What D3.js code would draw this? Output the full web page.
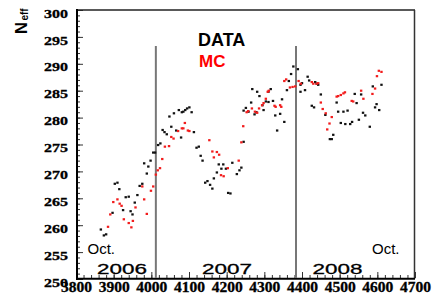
<!DOCTYPE html>
<html>
<head>
<meta charset="utf-8">
<script src="https://cdn.jsdelivr.net/npm/d3@7"></script>
<style>
  html, body { margin: 0; padding: 0; background: #fff; }
  svg { display: block; }
</style>
</head>
<body>
<div id="chart"></div>
<script>
// values: [run number, N_eff]
const dataPoints = [
  [3866,259.2],[3874,258.1],[3880,258.3],[3897,262.3],[3903,267.7],[3910,267.9],[3915,266.7],
  [3925,262.8],[3932,265.2],[3940,265.3],[3945,262.6],[3950,262.0],[3956,264.2],[3963,265.6],
  [3969,267.3],[3976,267.7],[3981,271.5],[3988,269.6],[3992,270.9],[3998,272.0],[4005,273.5],
  [4010,273.5],[4018,274.9],[4024,275.2],[4030,277.7],[4035,277.3],[4041,276.9],[4048,280.2],
  [4053,278.3],[4060,280.8],[4066,277.6],[4073,281.4],[4079,276.3],[4081,281.0],[4085,281.1],
  [4090,281.4],[4095,281.7],[4101,281.9],[4107,281.0],[4113,277.3],[4120,274.4],[4126,274.6],
  [4131,272.9],[4136,272.0],[4143,267.9],[4149,268.2],[4156,267.5],[4162,266.8],[4166,268.7],
  [4174,269.8],[4179,271.3],[4186,270.5],[4191,271.3],[4198,270.5],[4204,266.0],[4210,265.9],
  [4215,271.6],[4227,269.5],[4234,270.2],[4239,270.7],[4245,275.5],[4245,281.3],[4251,281.8],
  [4258,281.1],[4265,282.8],[4268,285.3],[4274,280.6],[4279,281.0],[4281,284.8],[4287,284.0],
  [4295,282.3],[4298,281.4],[4304,283.0],[4311,282.9],[4311,284.8],[4317,285.3],[4323,283.1],
  [4329,280.4],[4334,277.6],[4342,280.7],[4347,283.4],[4353,279.2],[4360,285.1],[4365,286.8],
  [4371,288.1],[4377,289.5],[4389,289.0],[4396,286.1],[4396,284.8],[4400,286.4],[4408,285.1],
  [4415,287.6],[4419,286.9],[4426,282.2],[4432,281.9],[4435,286.6],[4439,286.3],[4443,286.1],
  [4450,284.3],[4462,280.5],[4474,276.0],[4479,276.0],[4483,276.8],[4492,282.8],[4496,281.1],
  [4503,279.0],[4510,281.1],[4515,278.8],[4521,281.3],[4528,278.8],[4533,279.2],[4540,284.4],
  [4545,282.7],[4551,279.6],[4557,284.3],[4562,280.9],[4568,280.4],[4580,278.3],[4588,285.8],
  [4594,281.9],[4598,282.5],[4605,281.4],[4611,286.1]
];

const mcPoints = [
  [3885,259.7],[3891,262.0],[3899,264.3],[3910,264.8],[3916,264.0],[3921,263.6],[3927,261.1],
  [3940,260.4],[3947,259.6],[3951,260.8],[3958,263.3],[3976,267.2],[3981,264.8],[3988,262.1],
  [3999,266.4],[4005,267.2],[4012,269.4],[4017,270.2],[4023,270.6],[4029,272.3],[4036,274.6],
  [4047,274.7],[4053,276.4],[4059,276.1],[4071,277.5],[4081,278.0],[4085,278.0],[4089,279.0],
  [4097,277.6],[4101,277.5],[4154,275.8],[4162,273.7],[4166,272.6],[4174,273.6],[4180,273.1],
  [4185,269.3],[4192,269.1],[4203,270.6],[4232,272.0],[4239,275.4],[4244,278.4],[4253,281.0],
  [4257,281.2],[4267,281.7],[4275,281.1],[4281,280.9],[4286,281.7],[4294,282.3],[4298,282.7],
  [4304,283.5],[4309,284.8],[4312,285.0],[4327,282.2],[4330,282.0],[4342,282.3],[4345,282.0],
  [4353,286.8],[4358,287.1],[4368,285.6],[4375,285.7],[4382,285.8],[4391,286.8],[4397,286.3],
  [4426,286.6],[4430,286.3],[4439,286.3],[4443,286.4],[4450,282.8],[4455,281.6],[4463,280.8],
  [4467,277.8],[4473,278.9],[4479,280.1],[4492,283.9],[4496,284.0],[4503,284.2],[4510,284.5],
  [4514,284.7],[4532,283.1],[4536,283.0],[4557,285.0],[4563,283.5],[4587,284.4],[4594,285.4],
  [4599,287.7],[4604,288.7],[4611,288.5]
];

// year boundaries (run number) and labels
const yearEdges = [4012, 4384];
const yearLabels = [
  { text: '2006', run: 3922 },
  { text: '2007', run: 4201 },
  { text: '2008', run: 4494 }
];

const xTicks = d3.range(3800, 4701, 100);
const yTicks = d3.range(250, 301, 5);

const width = 436;
const height = 297;

const svg = d3.select('#chart')
  .append('svg')
  .attr('width', width)
  .attr('height', height);

const x = d3.scaleLinear().domain([3800, 4700]).range([76, 415]);
const y = d3.scaleLinear().domain([250, 300]).range([279, 10]);

// minor ticks
svg.append('g')
  .attr('transform', 'translate(77,0)')
  .call(d3.axisLeft(y).tickValues(d3.range(250, 301, 1)).tickSize(-3).tickFormat(''))
  .call(g => g.select('.domain').remove());
svg.append('g')
  .attr('transform', 'translate(0,278)')
  .call(d3.axisBottom(x).tickValues(d3.range(3800, 4701, 20)).tickSize(-3).tickFormat(''))
  .call(g => g.select('.domain').remove());

// major ticks with labels
const yAxis = svg.append('g')
  .attr('transform', 'translate(77,0)')
  .call(d3.axisLeft(y).tickValues(yTicks).tickSize(-6).tickPadding(9).tickFormat(d3.format('d')))
  .call(g => g.select('.domain').remove());
yAxis.selectAll('text')
  .attr('dy', '0.55em')
  .attr('fill', '#000')
  .attr('font-family', '"Liberation Serif", serif')
  .attr('font-weight', 'bold')
  .attr('font-size', 13)
  .attr('stroke', '#000')
  .attr('stroke-width', 0.3)
  .attr('textLength', 24)
  .attr('lengthAdjust', 'spacingAndGlyphs');

const xAxis = svg.append('g')
  .attr('transform', 'translate(0,278)')
  .call(d3.axisBottom(x).tickValues(xTicks).tickSize(-6).tickPadding(4).tickFormat(d3.format('d')))
  .call(g => g.select('.domain').remove());
xAxis.selectAll('text')
  .attr('fill', '#000')
  .attr('font-family', '"Liberation Serif", serif')
  .attr('font-weight', 'bold')
  .attr('font-size', 14)
  .attr('stroke', '#000')
  .attr('stroke-width', 0.3)
  .attr('textLength', 31)
  .attr('lengthAdjust', 'spacingAndGlyphs');

svg.selectAll('.tick line').attr('stroke', '#333');

// frame
svg.append('line').attr('x1', 76).attr('x2', 415).attr('y1', 10).attr('y2', 10)
  .attr('stroke', '#222').attr('stroke-width', 1.5);
svg.append('line').attr('x1', 414.5).attr('x2', 414.5).attr('y1', 10).attr('y2', 279)
  .attr('stroke', '#333').attr('stroke-width', 1.5);
svg.append('line').attr('x1', 77).attr('x2', 77).attr('y1', 9).attr('y2', 280)
  .attr('stroke', '#000').attr('stroke-width', 2);
svg.append('line').attr('x1', 76).attr('x2', 415).attr('y1', 278.7).attr('y2', 278.7)
  .attr('stroke', '#000').attr('stroke-width', 2);

// year separators
svg.selectAll('.sep')
  .data(yearEdges)
  .enter().append('line')
  .attr('class', 'sep')
  .attr('x1', d => x(d)).attr('x2', d => x(d))
  .attr('y1', 46).attr('y2', 278)
  .attr('stroke', '#777')
  .attr('stroke-width', 2);

// points
svg.selectAll('.data')
  .data(dataPoints)
  .enter().append('rect')
  .attr('class', 'data')
  .attr('x', d => x(d[0]) - 1.2)
  .attr('y', d => y(d[1]) - 1.1)
  .attr('width', 2.4)
  .attr('height', 2.2)
  .attr('fill', '#111');

svg.selectAll('.mc')
  .data(mcPoints)
  .enter().append('rect')
  .attr('class', 'mc')
  .attr('x', d => x(d[0]) - 1.2)
  .attr('y', d => y(d[1]) - 1.1)
  .attr('width', 2.4)
  .attr('height', 2.2)
  .attr('fill', '#f21c1c');

// legend
svg.append('text').attr('x', 198).attr('y', 45.5)
  .attr('font-family', '"Liberation Sans", Arial, sans-serif')
  .attr('font-weight', 'bold').attr('font-size', 18)
  .attr('fill', '#000').text('DATA');
svg.append('text').attr('x', 199).attr('y', 66.5)
  .attr('font-family', '"Liberation Sans", Arial, sans-serif')
  .attr('font-weight', 'bold').attr('font-size', 17)
  .attr('fill', '#f00').text('MC');

// Oct. marks
svg.append('text').attr('x', 87.5).attr('y', 254)
  .attr('font-family', '"Liberation Sans", Arial, sans-serif')
  .attr('font-size', 15).attr('fill', '#000').text('Oct.');
svg.append('text').attr('x', 372).attr('y', 254)
  .attr('font-family', '"Liberation Sans", Arial, sans-serif')
  .attr('font-size', 15).attr('fill', '#000').text('Oct.');

// year labels
svg.selectAll('.year')
  .data(yearLabels)
  .enter().append('text')
  .attr('class', 'year')
  .attr('x', d => x(d.run))
  .attr('y', 273.5)
  .attr('text-anchor', 'middle')
  .attr('font-family', '"Liberation Sans", Arial, sans-serif')
  .attr('font-size', 15)
  .attr('stroke', '#000')
  .attr('stroke-width', 0.3)
  .attr('textLength', 50)
  .attr('lengthAdjust', 'spacingAndGlyphs')
  .attr('fill', '#000')
  .text(d => d.text);

// y axis title
const title = svg.append('text')
  .attr('transform', 'translate(27,34) rotate(-90)')
  .attr('font-family', '"Liberation Sans", Arial, sans-serif')
  .attr('font-weight', 'bold')
  .attr('fill', '#000');
title.append('tspan').attr('font-size', 16.5).text('N');
title.append('tspan').attr('font-size', 10).attr('dx', 1.5).attr('dy', 1).text('eff');
</script>
</body>
</html>
